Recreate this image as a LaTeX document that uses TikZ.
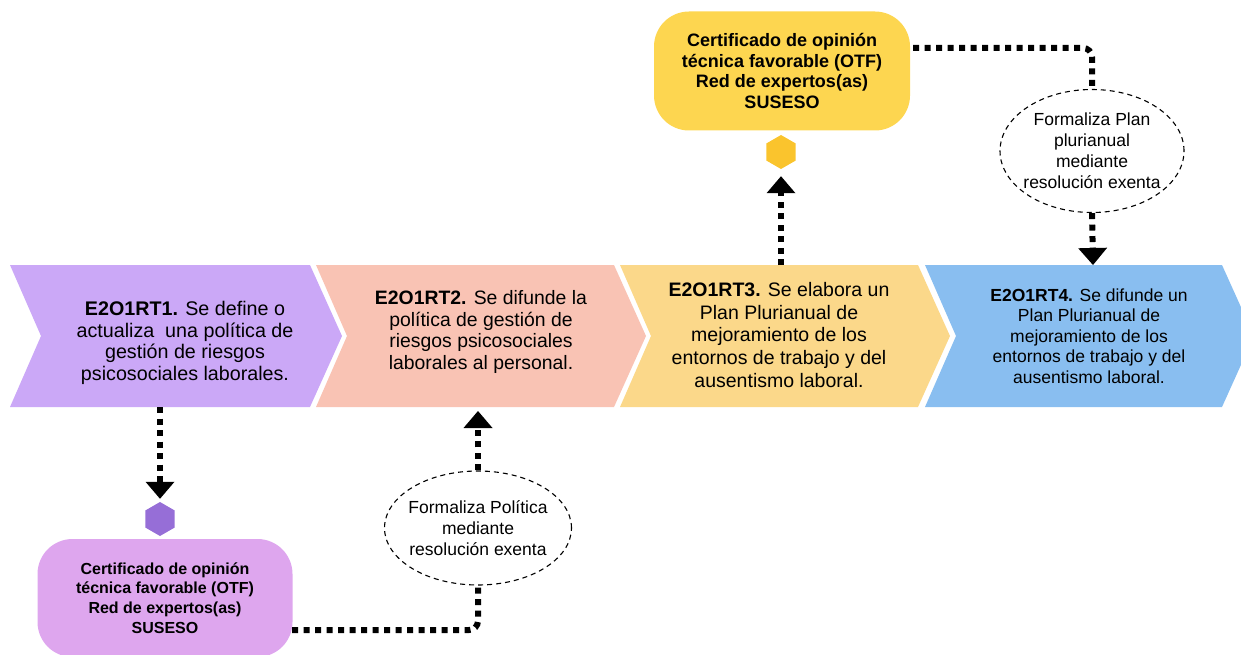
\documentclass[tikz,border=0pt]{standalone}
\usepackage{fontspec}
\setmainfont{Liberation Sans}
\usetikzlibrary{arrows.meta,shapes.geometric,calc}
\definecolor{chA}{RGB}{203,168,247}
\definecolor{chB}{RGB}{249,195,180}
\definecolor{chC}{RGB}{251,216,138}
\definecolor{chD}{RGB}{137,190,240}
\definecolor{boxP}{RGB}{222,166,238}
\definecolor{boxY}{RGB}{253,214,80}
\definecolor{hexPc}{RGB}{150,110,215}
\definecolor{hexYc}{RGB}{250,196,45}
\begin{document}
\begin{tikzpicture}[x=1pt,y=-1pt,
  dotline/.style={line width=6pt, dash pattern=on 6pt off 5.5pt},
  tipend/.style={-{Triangle[width=29pt,length=17pt,line width=0pt]}},
  chevtext/.style={align=center, text=black},
  certbox/.style={rounded corners=35pt, align=center},
  hexa/.style={regular polygon, regular polygon sides=6, shape border rotate=30,
    minimum size=34pt, inner sep=0pt},
  oval/.style={ellipse, draw, dash pattern=on 5pt off 4pt, line width=1.1pt,
    inner sep=0pt},
  ovaltext/.style={align=center, inner sep=0pt, font=\fontsize{17.5}{21}\selectfont}]
\useasboundingbox (0,0) rectangle (1241,655);
\clip (0,0) rectangle (1241,655);
% chevrons
\fill[chA] (10,265) -- (310,265) -- (342,336) -- (310,407) -- (10,407) -- (41,336) -- cycle;
\fill[chB] (316,265) -- (614,265) -- (646,336) -- (614,407) -- (316,407) -- (347,336) -- cycle;
\fill[chC] (620,265) -- (918,265) -- (950,336) -- (918,407) -- (620,407) -- (651,336) -- cycle;
\fill[chD] (925,265) -- (1222,265) -- (1254,336) -- (1222,407) -- (925,407) -- (956,336) -- cycle;
\node[chevtext, font=\fontsize{19.7}{21.6}\selectfont] (t1) at (185,343)
  {\textbf{E2O1RT1.} Se define o\\actualiza\ \ una política de\\gestión de riesgos\\psicosociales laborales.};
\node[chevtext, font=\fontsize{19.4}{21.4}\selectfont] (t2) at (481,332)
  {\textbf{E2O1RT2.} Se difunde la\\política de gestión de\\riesgos psicosociales\\laborales al personal.};
\node[chevtext, font=\fontsize{19.5}{22.8}\selectfont] (t3) at (779,335)
  {\textbf{E2O1RT3.} Se elabora un\\Plan Plurianual de\\mejoramiento de los\\entornos de trabajo y del\\ausentismo laboral.};
\node[chevtext, font=\fontsize{17.5}{20.5}\selectfont] (t4) at (1089,336)
  {\textbf{E2O1RT4.} Se difunde un\\Plan Plurianual de\\mejoramiento de los\\entornos de trabajo y del\\ausentismo laboral.};
\coordinate (c1b) at (160,407);
\coordinate (c2b) at (478,411);
\coordinate (c3t) at (781,265);
\coordinate (c4t) at (1093,265);
% certificate boxes
\node[certbox, fill=boxY, minimum width=256pt, minimum height=119pt,
  font=\bfseries\fontsize{18}{20.4}\selectfont] (yb) at (782,71)
  {Certificado de opinión\\técnica favorable (OTF)\\Red de expertos(as)\\SUSESO};
\node[certbox, fill=boxP, minimum width=255pt, minimum height=118pt,
  font=\bfseries\fontsize{16}{19.8}\selectfont] (pb) at (165,598)
  {Certificado de opinión\\técnica favorable (OTF)\\Red de expertos(as)\\SUSESO};
\coordinate (ybout) at (913,48);
\coordinate (pbout) at (292,630);
% hexagons
\node[hexa, fill=hexYc] (hexY) at (781,152) {};
\node[hexa, fill=hexPc] (hexP) at (160,519) {};
% ovals
\node[oval, minimum width=184pt, minimum height=123pt] (el2) at (1092,151) {};
\node[ovaltext] (el2t) at (el2.center)
  {Formaliza Plan\\plurianual\\mediante\\resolución exenta};
\node[oval, minimum width=187pt, minimum height=114pt] (el1) at (478,528) {};
\node[ovaltext] (el1t) at (el1.center)
  {Formaliza Política\\mediante\\resolución exenta};
% connectors
\draw[dotline, tipend] (c1b) -- ($(hexP.north)+(0,-3)$);
\draw[dotline, tipend] (c3t) -- ($(hexY.south)+(0,7)$);
\draw[dotline, rounded corners=9pt] (ybout) -| (el2.north);
\draw[dotline, tipend] (el2.south) -- (c4t);
\draw[dotline, rounded corners=9pt] (pbout) -| (el1.south);
\draw[dotline, tipend] (el1.north) -- (c2b);
\end{tikzpicture}
\end{document}
